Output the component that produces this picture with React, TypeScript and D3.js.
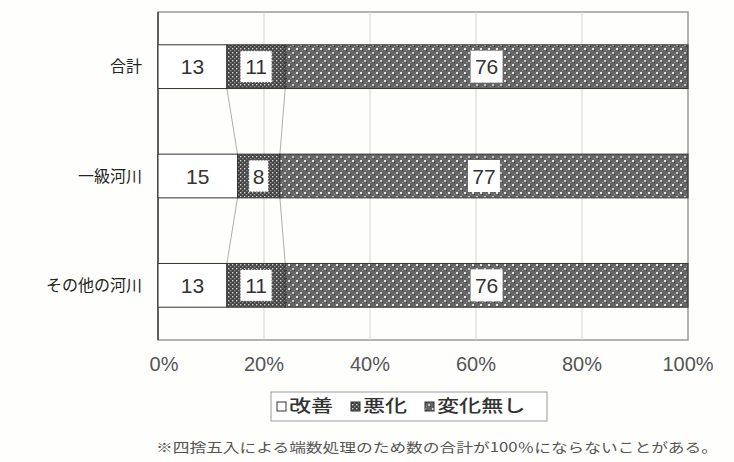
import React from "react";
import * as d3 from "d3";

const categories = ["合計", "一級河川", "その他の河川"];
const seriesNames = ["改善", "悪化", "変化無し"];
const improved = [13, 15, 13];
const worsened = [11, 8, 11];
const unchanged = [76, 77, 76];
const xTicks = [0, 20, 40, 60, 80, 100];
const footnote = "※四捨五入による端数処理のため数の合計が100％にならないことがある。";

const W = 734;
const H = 462;
const margin = { top: 12, right: 46, bottom: 122, left: 158 };
const jp = "'Noto Sans CJK JP', sans-serif";
const num = "'Liberation Sans', Arial, sans-serif";

export default function App() {
  const x = d3.scaleLinear().domain([0, 100]).range([margin.left, W - margin.right]);
  const y = d3.scaleBand<string>()
    .domain(categories)
    .range([margin.top, H - margin.bottom])
    .paddingInner(0.6)
    .paddingOuter(0.3);

  const rows = categories.map((c, i) => {
    const vals = [improved[i], worsened[i], unchanged[i]];
    let acc = 0;
    const segs = vals.map((v, k) => {
      const s = { k, v, x0: acc, x1: acc + v };
      acc += v;
      return s;
    });
    return { c, segs };
  });

  const fills = ["#ffffff", "url(#patWorse)", "url(#patSame)"];
  const bh = y.bandwidth();

  // series lines between neighbouring bars
  const seriesLines: { x1: number; y1: number; x2: number; y2: number }[] = [];
  for (let i = 0; i < rows.length - 1; i++) {
    for (let k = 0; k < 2; k++) {
      seriesLines.push({
        x1: x(rows[i].segs[k].x1),
        y1: y(rows[i].c)! + bh,
        x2: x(rows[i + 1].segs[k].x1),
        y2: y(rows[i + 1].c)!,
      });
    }
  }

  const plotBottom = H - margin.bottom;
  const legendX = [277, 351, 425];

  return (
    <svg width={W} height={H} style={{ position: "absolute", left: 0, top: 0, background: "#fefefc" }}>
      <defs>
        <pattern id="patWorse" width="4" height="4" patternUnits="userSpaceOnUse">
          <rect width="4" height="4" fill="#454545" />
          <rect x="0" y="0" width="1.4" height="1.4" fill="#d0d0d0" />
          <rect x="2" y="2" width="1.4" height="1.4" fill="#8a8a8a" />
        </pattern>
        <pattern id="patSame" width="8" height="8" patternUnits="userSpaceOnUse">
          <rect width="8" height="8" fill="#666" />
          <rect x="0" y="0" width="2" height="2" fill="#e6e6e6" />
          <rect x="4" y="4" width="2" height="2" fill="#c4c4c4" />
          <rect x="2" y="2" width="1" height="1" fill="#333" />
          <rect x="6" y="6" width="1" height="1" fill="#333" />
          <rect x="2" y="6" width="1" height="1" fill="#999" />
          <rect x="6" y="2" width="1" height="1" fill="#999" />
        </pattern>
      </defs>

      {/* plot frame + grid */}
      <rect x={margin.left} y={margin.top} width={x(100) - x(0)} height={plotBottom - margin.top}
        fill="none" stroke="#999" strokeWidth={1.5} />
      {xTicks.slice(1, -1).map(t => (
        <line key={t} x1={x(t)} x2={x(t)} y1={margin.top} y2={plotBottom} stroke="#d4d4d4" strokeWidth={1} />
      ))}
      <line x1={x(0)} x2={x(0)} y1={margin.top} y2={plotBottom} stroke="#444" strokeWidth={1.5} />

      {seriesLines.map((l, i) => (
        <line key={i} x1={l.x1} y1={l.y1} x2={l.x2} y2={l.y2} stroke="#999" strokeWidth={0.8} />
      ))}

      {rows.map(r => (
        <g key={r.c}>
          {r.segs.map(s => (
            <rect key={s.k} x={x(s.x0)} y={y(r.c)} width={x(s.x1) - x(s.x0)} height={bh}
              fill={fills[s.k]} stroke="#333" strokeWidth={1} />
          ))}
          {r.segs.map(s => {
            const cx = (x(s.x0) + x(s.x1)) / 2;
            const cy = y(r.c)! + bh / 2;
            const label = String(s.v);
            const bw = label.length * 12 + 8;
            return (
              <g key={"l" + s.k}>
                {s.k > 0 && (
                  <rect x={cx - bw / 2} y={cy - 16} width={bw} height={32} fill="#fff"
                    stroke={s.k === 1 ? "#555" : "none"} strokeDasharray={s.k === 1 ? "2,1" : undefined} />
                )}
                <text x={cx} y={cy} dy="0.36em" textAnchor="middle" fontFamily={num} fontSize={21} fill="#333">
                  {label}
                </text>
              </g>
            );
          })}
          <text x={margin.left - 16} y={y(r.c)! + bh / 2} dy="0.36em" textAnchor="end"
            fontFamily={jp} fontSize={16} fill="#222">{r.c}</text>
        </g>
      ))}

      {xTicks.map(t => (
        <text key={t} x={x(t) + (t === 0 ? 6 : 0)} y={plotBottom + 31} textAnchor="middle"
          fontFamily={num} fontSize={20} fill="#555">{t}%</text>
      ))}

      {/* legend */}
      <rect x={271} y={392} width={276} height={29} fill="#fff" stroke="#999" />
      {seriesNames.map((n, k) => (
        <g key={n}>
          <rect x={legendX[k]} y={402} width={9} height={9} fill={fills[k]} stroke="#333" />
          <text transform={`translate(${legendX[k] + 12},406) scale(1.3,1)`} dy="0.36em"
            fontFamily={jp} fontSize={17} fontWeight={500} fill="#333">{n}</text>
        </g>
      ))}

      <text x={156} y={452} textLength={562} lengthAdjust="spacingAndGlyphs"
        fontFamily={jp} fontSize={13} fill="#555">{footnote}</text>
    </svg>
  );
}
